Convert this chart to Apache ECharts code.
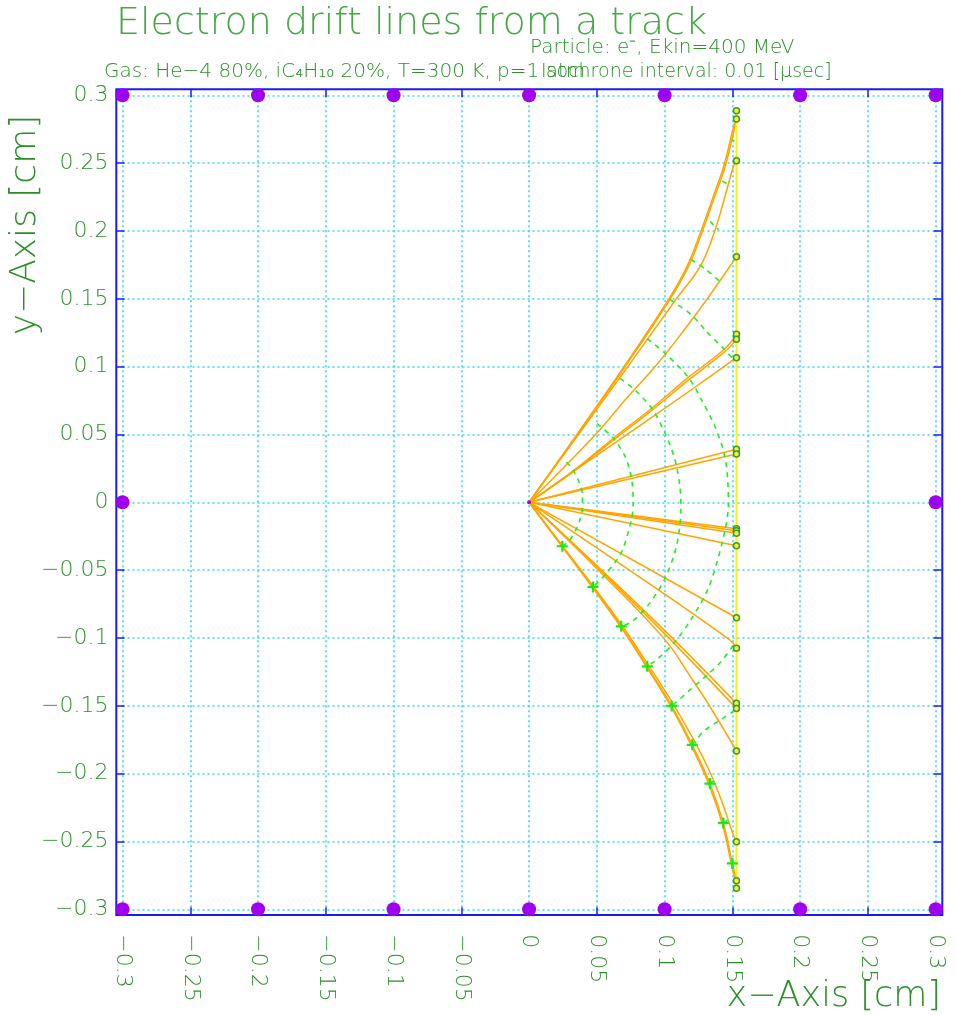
<!DOCTYPE html>
<html><head><meta charset="utf-8">
<script src="https://cdn.jsdelivr.net/npm/echarts@6/dist/echarts.min.js"></script>
<style>html,body{margin:0;padding:0;background:#fff}#c{width:957px;height:1015px}</style>
</head><body><div id="c"></div>
<script>
// ---- data ----
const xTicks = [-0.3,-0.25,-0.2,-0.15,-0.1,-0.05,0,0.05,0.1,0.15,0.2,0.25,0.3];
const yTicks = [-0.3,-0.25,-0.2,-0.15,-0.1,-0.05,0,0.05,0.1,0.15,0.2,0.25,0.3];
const trackX = 0.153;
const trackY = [0.2886, -0.2845];

const drift_p2825 = [[0,0],[0.0364,0.0509],[0.0708,0.0999],[0.1036,0.1491],[0.1175,0.1737],[0.1273,0.1983],[0.136,0.2228],[0.1446,0.2474],[0.1507,0.272],[0.153,0.2825]];
const drift_p2886 = [[0,0],[0.0361,0.0512],[0.0703,0.1004],[0.1030,0.1497],[0.1168,0.1745],[0.1266,0.1992],[0.1353,0.2238],[0.1438,0.2485],[0.1500,0.2735],[0.1524,0.2830],[0.153,0.2886]];
const drift_p2518 = [[0,0],[0.0368,0.0505],[0.0725,0.0995],[0.108,0.1491],[0.1261,0.1737],[0.1364,0.1983],[0.1438,0.2228],[0.1507,0.2474],[0.153,0.2518]];
const drift_p1810 = [[0,0],[0.0499,0.0509],[0.0708,0.0754],[0.0929,0.0999],[0.1126,0.1246],[0.1308,0.1491],[0.153,0.181]];
const drift_p1238 = [[0,0],[0.0327,0.0233],[0.0622,0.0472],[0.0905,0.0693],[0.1175,0.0921],[0.144,0.1128],[0.153,0.1238]];
const drift_p1201 = [[0,0],[0.0329,0.0228],[0.0626,0.0462],[0.0912,0.0683],[0.1182,0.0906],[0.1447,0.1112],[0.153,0.1201]];
const drift_p1066 = [[0,0],[0.0612,0.0424],[0.1224,0.0848],[0.153,0.1066]];
const drift_p0391 = [[0,0],[0.153,0.0391]];
const drift_p0356 = [[0,0],[0.153,0.0356]];
const drift_m0195 = [[0,0],[0.153,-0.0195]];
const drift_m0210 = [[0,0],[0.153,-0.0210]];
const drift_m0228 = [[0,0],[0.153,-0.0228]];
const drift_m0320 = [[0,0],[0.153,-0.0320]];
const drift_m0851 = [[0,0],[0.153,-0.0851]];
const drift_m1076 = [[0,0],[0.074,-0.0500],[0.148,-0.1014],[0.153,-0.1076]];
const drift_m1482 = [[0,0],[0.0535,-0.0500],[0.107,-0.1014],[0.153,-0.1482]];
const drift_m1520 = [[0,0],[0.0525,-0.0500],[0.1045,-0.1014],[0.153,-0.1520]];
const drift_m1833 = [[0,0],[0.05,-0.049],[0.1003,-0.1014],[0.1200,-0.1300],[0.1335,-0.1507],[0.153,-0.1833]];
const drift_m2502 = [[0,0],[0.0247,-0.0322],[0.0474,-0.0620],[0.0686,-0.0908],[0.088,-0.1200],[0.1065,-0.1490],[0.1225,-0.1770],[0.1335,-0.1990],[0.1420,-0.2200],[0.1507,-0.2452],[0.153,-0.2502]];
const drift_m2789 = [[0,0],[0.0245,-0.0324],[0.0471,-0.0624],[0.068,-0.0914],[0.0872,-0.1209],[0.1052,-0.1501],[0.1204,-0.1788],[0.1334,-0.2073],[0.1433,-0.2363],[0.150,-0.2662],[0.153,-0.2789]];
const drift_m2845 = [[0,0],[0.0243,-0.0327],[0.0468,-0.0628],[0.0676,-0.0918],[0.0867,-0.1214],[0.1047,-0.1507],[0.1198,-0.1795],[0.1327,-0.2081],[0.1426,-0.2372],[0.1494,-0.2672],[0.1520,-0.2790],[0.153,-0.2845]];

const iso1 = [[0.0275,0.0297],[0.0327,0.0233],[0.0368,0.0150],[0.0393,0.0055],[0.0393,-0.0050],[0.0378,-0.0120],[0.0351,-0.0192],[0.0295,-0.0285],[0.0245,-0.0324]];
const iso2 = [[0.0500,0.0580],[0.0622,0.0472],[0.0712,0.0330],[0.0757,0.0164],[0.0768,0],[0.0757,-0.0118],[0.0683,-0.0364],[0.0560,-0.0536],[0.0471,-0.0624]];
const iso3 = [[0.0671,0.0914],[0.0781,0.0828],[0.0905,0.0693],[0.1003,0.0509],[0.1077,0.0312],[0.1113,0.0115],[0.1120,-0.0044],[0.1089,-0.0315],[0.1003,-0.0560],[0.0880,-0.0757],[0.0757,-0.0880],[0.0680,-0.0914]];
const iso4 = [[0.0872,0.1206],[0.1003,0.1098],[0.1175,0.0921],[0.1273,0.0754],[0.1372,0.0557],[0.1445,0.0336],[0.1468,0.0115],[0.1470,-0.0020],[0.1420,-0.0315],[0.1322,-0.0634],[0.1200,-0.0855],[0.1077,-0.1027],[0.0953,-0.1150],[0.0872,-0.1209]];
const iso5_up = [[0.1040,0.1495],[0.1200,0.1380],[0.1310,0.1257],[0.1440,0.1128],[0.1505,0.1055]];
const iso5_low = [[0.1505,-0.1055],[0.1420,-0.1170],[0.1322,-0.1266],[0.1187,-0.1383],[0.1089,-0.1470],[0.1052,-0.1501]];
const iso6_up = [[0.1195,0.1790],[0.1300,0.1720],[0.1405,0.1630]];
const iso6_low = [[0.1204,-0.1788],[0.1286,-0.1690],[0.1409,-0.1605],[0.1507,-0.1543]];
const iso7_up = [[0.1335,0.2070],[0.1398,0.2010]];
const iso7_low = [[0.1334,-0.2073],[0.1372,-0.2045]];
const iso8_up = [[0.1425,0.2368],[0.1478,0.2338]];
const iso8_low = [[0.1433,-0.2363],[0.1470,-0.2340]];
const iso9_up = [[0.1497,0.2672],[0.1515,0.2662]];

const plusPoints = [[0.0245,-0.0324],[0.0471,-0.0624],[0.068,-0.0914],[0.0872,-0.1209],[0.1052,-0.1501],[0.1204,-0.1788],[0.1334,-0.2073],[0.1433,-0.2363],[0.150,-0.2662]];
const frameDotX = [-0.3,-0.2,-0.1,0,0.1,0.2,0.3];
const sideDotY = [0];
const wirePoint = [[0,0]];

const titleText = 'Electron drift lines from a track';
const particleText = 'Particle: e\u207B, Ekin=400 MeV';
const gasText = 'Gas: He\u22124 80%, iC\u2084H\u2081\u2080 20%, T=300 K, p=1 atm';
const isoText = 'Isochrone interval: 0.01 [\u03BCsec]';
const xName = 'x\u2212Axis [cm]';
const yName = 'y\u2212Axis [cm]';

// ---- build ----
const driftLines = [drift_p2825,drift_p2886,drift_p2518,drift_p1810,drift_p1238,drift_p1201,drift_p1066,drift_p0391,drift_p0356,
  drift_m0195,drift_m0210,drift_m0228,drift_m0320,drift_m0851,drift_m1076,drift_m1482,drift_m1520,drift_m1833,drift_m2502,drift_m2789,drift_m2845];
const isochrones = [iso1,iso2,iso3,iso4,iso5_up,iso5_low,iso6_up,iso6_low,iso7_up,iso7_low,iso8_up,iso8_low,iso9_up];
const endPoints = driftLines.map(l => l[l.length-1]);
const purpleDots = [];
frameDotX.forEach(x => { purpleDots.push([x, 0.3]); purpleDots.push([x, -0.3]); });
sideDotY.forEach(y => { purpleDots.push([-0.3, y]); purpleDots.push([0.3, y]); });

const GREEN = '#2b902b';
const FONT = '"DejaVu Sans"';
const fmt = v => { const r = Math.round(v*100)/100; return (r < 0 ? '\u2212' : '') + Math.abs(r); };

const tickStyle = {show:true, inside:true, length:8, lineStyle:{color:'#1a1aff', width:1.5}};
const gridLineStyle = {show:true, lineStyle:{color:'#3ad8f0', width:1.6, type:[2,3]}};
const hiddenLine = {show:false, onZero:false};

const series = [];
driftLines.forEach(l => series.push({type:'line', xAxisIndex:0, yAxisIndex:0, data:l, showSymbol:false, smooth:0.4,
  lineStyle:{color:'#ffa500', width:1.5}, z:3, silent:true}));
series.push({type:'line', xAxisIndex:0, yAxisIndex:0, data:trackY.map(y => [trackX, y]), showSymbol:false,
  lineStyle:{color:'#ffee10', width:2}, z:4, silent:true});
isochrones.forEach(l => series.push({type:'line', xAxisIndex:0, yAxisIndex:0, data:l, showSymbol:false, smooth:0.3,
  lineStyle:{color:'#22ee22', width:1.6, type:[5,5]}, z:5, silent:true}));
series.push({type:'scatter', xAxisIndex:0, yAxisIndex:0, data:endPoints, symbol:'circle', symbolSize:6,
  itemStyle:{color:'#f4ee40', borderColor:'#3a9a2a', borderWidth:1.5, opacity:1}, z:6, silent:true});
series.push({type:'scatter', xAxisIndex:0, yAxisIndex:0, data:plusPoints,
  symbol:'path://M-1,-5L1,-5L1,-1L5,-1L5,1L1,1L1,5L-1,5L-1,1L-5,1L-5,-1L-1,-1Z', symbolSize:11,
  itemStyle:{color:'#11ee11', opacity:1}, z:7, silent:true});
series.push({type:'scatter', xAxisIndex:0, yAxisIndex:0, data:purpleDots, symbol:'circle', symbolSize:14,
  itemStyle:{color:'#a000f0', opacity:1}, z:8, silent:true});
series.push({type:'scatter', xAxisIndex:0, yAxisIndex:0, data:wirePoint, symbol:'circle', symbolSize:4,
  itemStyle:{color:'#a000f0', opacity:1}, z:8, silent:true});

const chart = echarts.init(document.getElementById('c'), null, {renderer:'canvas'});
chart.setOption({
  animation:false,
  backgroundColor:'#ffffff',
  grid:[
    {left:122.5, right:21.3, top:95.3, bottom:105.7},
    {left:116.3, right:14.7, top:89.3, bottom:100, show:true, borderColor:'#1a1aff', borderWidth:2, backgroundColor:'rgba(0,0,0,0)'}
  ],
  xAxis:[
    {gridIndex:0, type:'value', min:xTicks[0], max:xTicks[xTicks.length-1], interval:0.05, position:'bottom', offset:6,
      axisLine:hiddenLine, axisTick:tickStyle, splitLine:gridLineStyle,
      axisLabel:{rotate:-90, margin:19, fontSize:22, fontFamily:FONT, fontWeight:200, color:GREEN, formatter:fmt}},
    {gridIndex:0, type:'value', min:xTicks[0], max:xTicks[xTicks.length-1], interval:0.05, position:'top', offset:6,
      axisLine:hiddenLine, axisTick:tickStyle, splitLine:{show:false}, axisLabel:{show:false}},
    {gridIndex:1, type:'value', show:false, min:0, max:1}
  ],
  yAxis:[
    {gridIndex:0, type:'value', min:yTicks[0], max:yTicks[yTicks.length-1], interval:0.05, position:'left', offset:6,
      axisLine:hiddenLine, axisTick:tickStyle, splitLine:gridLineStyle,
      axisLabel:{margin:8, fontSize:22, fontFamily:FONT, fontWeight:200, color:GREEN, formatter:fmt}},
    {gridIndex:0, type:'value', min:yTicks[0], max:yTicks[yTicks.length-1], interval:0.05, position:'right', offset:6,
      axisLine:hiddenLine, axisTick:tickStyle, splitLine:{show:false}, axisLabel:{show:false}},
    {gridIndex:1, type:'value', show:false, min:0, max:1}
  ],
  graphic:[
    {type:'text', x:116, y:24, style:{text:titleText, fill:'#45a845', font:'200 38px '+FONT, textAlign:'left', textVerticalAlign:'middle'}},
    {type:'text', x:530, y:48, style:{text:particleText, fill:GREEN, font:'200 20px '+FONT, textAlign:'left', textVerticalAlign:'middle'}},
    {type:'text', x:104, y:72, style:{text:gasText, fill:GREEN, font:'200 20px '+FONT, textAlign:'left', textVerticalAlign:'middle'}},
    {type:'text', x:541, y:72, style:{text:isoText, fill:GREEN, font:'200 19px '+FONT, textAlign:'left', textVerticalAlign:'middle'}},
    {type:'text', x:941, y:997, style:{text:xName, fill:GREEN, font:'200 35px '+FONT, textAlign:'right', textVerticalAlign:'middle'}},
    {type:'text', x:26, y:225, rotation:Math.PI/2, style:{text:yName, fill:GREEN, font:'200 36px '+FONT, textAlign:'center', textVerticalAlign:'middle'}}
  ],
  series:series
});
</script></body></html>
